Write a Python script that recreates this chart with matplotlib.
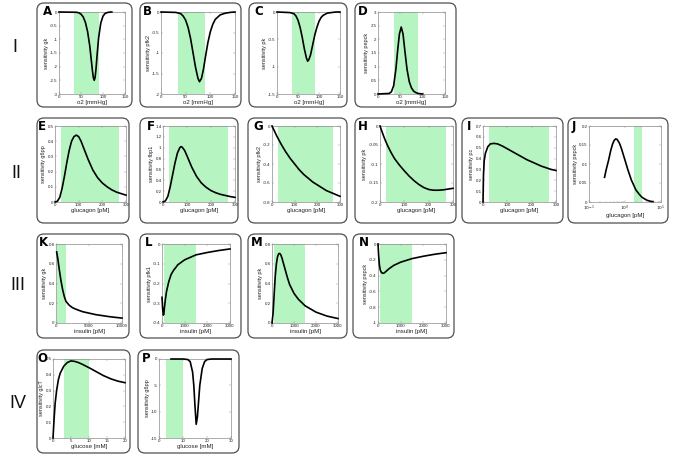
"""Sensitivity panels I-IV, matplotlib recreation."""

import math

import matplotlib
matplotlib.use('Agg')
import matplotlib.pyplot as plt
from matplotlib.patches import FancyBboxPatch
from matplotlib.ticker import FormatStrFormatter, FuncFormatter

plt.rcParams['font.family'] = ['Liberation Sans', 'DejaVu Sans']
plt.rcParams['axes.unicode_minus'] = False

# ---- data ----
# row I: o2 [mmHg]
A_o2 = [0, 40, 45, 50, 55, 60, 65, 70, 73, 76, 78, 80, 82, 84, 87, 90, 95, 100, 105, 110, 115, 120]
A_gk = [0, -0.01, -0.03, -0.08, -0.18, -0.38, -0.72, -1.25, -1.7, -2.15, -2.4, -2.5, -2.4, -2.1,
        -1.5, -0.95, -0.4, -0.15, -0.05, -0.02, -0.005, 0]
B_o2 = [0, 30, 40, 45, 50, 55, 60, 65, 70, 75, 78, 82, 86, 90, 95, 100, 105, 110, 120, 130, 140, 150]
B_pfk2 = [0, -0.01, -0.04, -0.1, -0.2, -0.38, -0.65, -1.0, -1.35, -1.62, -1.7, -1.62, -1.4, -1.1,
          -0.75, -0.48, -0.3, -0.18, -0.07, -0.03, -0.01, 0]
C_o2 = [0, 30, 40, 45, 50, 55, 60, 65, 70, 73, 76, 80, 85, 90, 95, 100, 105, 110, 120, 130, 140, 150]
C_pk = [0, -0.01, -0.03, -0.07, -0.15, -0.28, -0.46, -0.67, -0.84, -0.9, -0.87, -0.78, -0.6, -0.42,
        -0.28, -0.17, -0.1, -0.06, -0.02, -0.01, 0, 0]
D_o2 = [0, 25, 30, 35, 40, 44, 48, 52, 56, 60, 65, 70, 75, 80, 85, 90, 100]
D_pepck = [0, 0.02, 0.08, 0.3, 0.9, 1.6, 2.2, 2.45, 2.2, 1.6, 0.9, 0.45, 0.22, 0.1, 0.05, 0.02, 0]

# row II: glucagon [pM]
E_glu = [0, 10, 20, 30, 40, 50, 60, 70, 80, 90, 100, 110, 120, 140, 160, 180, 200, 220, 240, 260, 280, 300]
E_g6pp = [0, 0.005, 0.03, 0.09, 0.17, 0.26, 0.34, 0.40, 0.43, 0.44, 0.43, 0.40, 0.36, 0.28, 0.21,
          0.16, 0.125, 0.10, 0.08, 0.065, 0.055, 0.045]
F_glu = [0, 10, 20, 30, 40, 50, 60, 70, 75, 80, 90, 100, 120, 140, 160, 180, 200, 220, 240, 260, 280, 300]
F_fbp1 = [0, 0.02, 0.1, 0.28, 0.5, 0.72, 0.9, 1.0, 1.02, 1.01, 0.95, 0.85, 0.64, 0.47, 0.35, 0.27,
          0.21, 0.17, 0.14, 0.12, 0.1, 0.085]
G_glu = [0, 10, 20, 40, 60, 80, 100, 120, 140, 160, 180, 200, 220, 240, 260, 280, 300]
G_pfk2 = [0, -0.05, -0.1, -0.19, -0.27, -0.34, -0.40, -0.46, -0.51, -0.55, -0.59, -0.62, -0.65,
          -0.68, -0.70, -0.72, -0.74]
H_glu = [0, 10, 20, 30, 40, 50, 60, 80, 100, 120, 140, 160, 180, 200, 220, 240, 260, 280, 300]
H_pk = [0, -0.018, -0.035, -0.05, -0.063, -0.075, -0.086, -0.103, -0.118, -0.132, -0.144, -0.154,
        -0.162, -0.167, -0.169, -0.169, -0.168, -0.166, -0.164]
I_glu = [0, 2, 5, 10, 20, 30, 45, 60, 80, 100, 120, 140, 160, 180, 200, 220, 240, 260, 280, 300]
I_pc = [0, 0.25, 0.38, 0.45, 0.51, 0.535, 0.54, 0.535, 0.515, 0.49, 0.465, 0.44, 0.415, 0.39, 0.37,
        0.35, 0.33, 0.315, 0.3, 0.29]
J_glu = [0.27, 0.3, 0.35, 0.4, 0.45, 0.5, 0.55, 0.6, 0.7, 0.8, 1.0, 1.2, 1.5, 2.0, 2.5, 3.0, 4.0, 5.0, 6.0]
J_pepck = [0.065, 0.085, 0.11, 0.135, 0.152, 0.162, 0.166, 0.165, 0.155, 0.14, 0.11, 0.085, 0.058,
           0.032, 0.02, 0.012, 0.005, 0.002, 0.001]

# row III: insulin [pM]
K_ins = [100, 300, 500, 750, 1000, 1250, 1500, 2000, 2500, 3000, 4000, 5000, 6000, 7000, 8000, 9000, 10000]
K_gk = [0.72, 0.64, 0.54, 0.43, 0.34, 0.27, 0.22, 0.18, 0.155, 0.14, 0.115, 0.1, 0.085, 0.075,
        0.065, 0.057, 0.05]
L_ins = [0, 30, 60, 80, 100, 150, 200, 300, 400, 500, 700, 1000, 1500, 2000, 2500, 3000]
L_pfk1 = [-0.27, -0.33, -0.36, -0.355, -0.33, -0.28, -0.24, -0.19, -0.155, -0.135, -0.105, -0.08,
          -0.055, -0.043, -0.033, -0.025]
M_ins = [0, 50, 100, 150, 200, 250, 300, 350, 400, 450, 500, 600, 700, 800, 1000, 1200, 1500, 2000, 2500, 3000]
M_pk = [0, 0.1, 0.3, 0.48, 0.6, 0.67, 0.7, 0.705, 0.69, 0.66, 0.62, 0.54, 0.46, 0.39, 0.3, 0.24,
        0.175, 0.11, 0.07, 0.045]
N_ins = [0, 30, 60, 100, 150, 200, 250, 300, 400, 500, 700, 1000, 1500, 2000, 2500, 3000]
N_pepck = [0, -0.15, -0.26, -0.33, -0.36, -0.37, -0.37, -0.36, -0.335, -0.31, -0.27, -0.23, -0.185,
           -0.155, -0.13, -0.11]

# row IV: glucose [mM]
O_glc = [0, 0.3, 0.6, 1, 1.5, 2, 3, 4, 5, 6, 7, 8, 10, 12, 14, 16, 18, 20]
O_glct = [0, 0.12, 0.22, 0.3, 0.37, 0.41, 0.455, 0.478, 0.488, 0.485, 0.478, 0.468, 0.445, 0.42,
          0.395, 0.375, 0.36, 0.35]
P_glc = [5, 10, 12, 13, 14, 14.5, 15, 15.5, 16, 16.5, 17, 18, 19, 20, 22, 30]
P_g6pp = [0, 0, -0.1, -0.5, -2.5, -5, -9, -12.4, -11, -8, -5, -1.8, -0.5, -0.1, 0, 0]

# physiological ranges (green bands)
O2_RANGE = (35, 90)
GLUCAGON_RANGE = (25, 270)
GLUCAGON_LOG_RANGE = (1.8, 3.0)
INSULIN_RANGE = (100, 1500)
GLUCOSE_RANGE = (3, 10)

ROW_LABELS = ['I', 'II', 'III', 'IV']

# ---- layout (pixels in a 673x457 image) ----
W, H = 673, 457
GREEN = '#b6f5c2'
AX_GRAY = '#8c8c8c'

# letter: box (x0, y0, x1, y1), axes (x0, y0, x1, y1), letter x-offset
PANELS = {
    'A': ((37, 3, 132, 107), (59, 12, 125, 94), 6),
    'B': ((140, 3, 241, 107), (161, 12, 235, 94), 3),
    'C': ((249, 3, 347, 107), (277, 12, 340, 94), 5),
    'D': ((355, 3, 456, 107), (378, 12, 445, 94), 3),
    'E': ((37, 118, 129, 223), (55, 126, 126, 202), 1),
    'F': ((140, 118, 238, 223), (163, 126, 235, 202), 7),
    'G': ((248, 118, 347, 223), (272, 126, 340, 202), 5),
    'H': ((355, 118, 456, 223), (380, 126, 453, 202), 3),
    'I': ((462, 118, 563, 223), (483, 126, 556, 202), 5),
    'J': ((568, 118, 668, 223), (589, 126, 661, 202), 4),
    'K': ((37, 234, 129, 338), (56, 244, 122, 323), 2),
    'L': ((140, 234, 241, 338), (162, 244, 230, 323), 5),
    'M': ((248, 234, 347, 338), (272, 244, 338, 323), 3),
    'N': ((353, 234, 454, 338), (378, 244, 446, 323), 6),
    'O': ((37, 350, 130, 453), (53, 359, 125, 438), 0),
    'P': ((138, 350, 239, 453), (159, 359, 231, 438), 4),
}
ROW_POS = [(15, 47), (16, 173), (18, 286), (18, 404)]

fig = plt.figure(figsize=(W / 100, H / 100), dpi=100)
fig.patch.set_facecolor('white')


def px_rect(x0, y0, x1, y1):
    """Pixel box (top-left origin) -> figure fraction rect."""
    return [x0 / W, 1 - y1 / H, (x1 - x0) / W, (y1 - y0) / H]


def log_label(v, pos):
    return r'$10^{%d}$' % round(math.log10(v))


def draw_panel(letter, x, y, xlim, ylim, xticks, yticks, band, xlabel, ylabel, log=False):
    box, axpx, loff = PANELS[letter]
    bx0, by0, bx1, by1 = box
    # rounded frame, in inches so corners stay round
    fig.patches.append(FancyBboxPatch(
        (bx0 / 100, (H - by1) / 100), (bx1 - bx0) / 100, (by1 - by0) / 100,
        boxstyle='round,pad=0,rounding_size=0.07', transform=fig.dpi_scale_trans,
        facecolor='none', edgecolor='#505050', linewidth=0.9, zorder=0))
    fig.text((bx0 + loff) / W, 1 - (by0 + 2) / H, letter, fontsize=8.5,
             fontweight='bold', ha='left', va='top', family='DejaVu Sans')

    ax = fig.add_axes(px_rect(*axpx))
    if log:
        ax.set_xscale('log')
    ax.axvspan(band[0], band[1], color=GREEN, lw=0, zorder=0)
    ax.plot(x, y, color='black', lw=1.2, zorder=3, clip_on=False)
    ax.set_xlim(*xlim)
    ax.set_ylim(*ylim)
    ax.set_xticks(xticks)
    ax.set_yticks(yticks)
    if log:
        ax.xaxis.set_major_formatter(FuncFormatter(log_label))
        ax.tick_params(axis='x', which='minor', direction='in', length=0.8, width=0.3,
                       colors=AX_GRAY, top=True)
    else:
        ax.xaxis.set_major_formatter(FormatStrFormatter('%g'))
    ax.yaxis.set_major_formatter(FormatStrFormatter('%g'))
    ax.tick_params(axis='both', which='major', direction='in', length=1.5, width=0.3,
                   colors=AX_GRAY, labelcolor='#222222', labelsize=3.2, pad=1,
                   top=True, right=True)
    for s in ax.spines.values():
        s.set_color(AX_GRAY)
        s.set_linewidth(0.5)
    ax.set_xlabel(xlabel, fontsize=4.4, labelpad=0.3, color='#222222')
    ax.set_ylabel(ylabel, fontsize=4.0, labelpad=1.0, color='#222222')
    return ax


# row I
o2_ticks = [0, 50, 100, 150]
draw_panel('A', A_o2, A_gk, (0, 150), (-3, 0), o2_ticks,
           [-3, -2.5, -2, -1.5, -1, -0.5, 0], O2_RANGE, 'o2 [mmHg]', 'sensitivity gk')
draw_panel('B', B_o2, B_pfk2, (0, 150), (-2, 0), o2_ticks,
           [-2, -1.5, -1, -0.5, 0], O2_RANGE, 'o2 [mmHg]', 'sensitivity pfk2')
draw_panel('C', C_o2, C_pk, (0, 150), (-1.5, 0), o2_ticks,
           [-1.5, -1, -0.5, 0], O2_RANGE, 'o2 [mmHg]', 'sensitivity pk')
draw_panel('D', D_o2, D_pepck, (0, 150), (0, 3), o2_ticks,
           [0, 0.5, 1, 1.5, 2, 2.5, 3], O2_RANGE, 'o2 [mmHg]', 'sensitivity pepck')

# row II
glu_ticks = [0, 100, 200, 300]
draw_panel('E', E_glu, E_g6pp, (0, 300), (0, 0.5), glu_ticks,
           [0, 0.1, 0.2, 0.3, 0.4, 0.5], GLUCAGON_RANGE, 'glucagon [pM]', 'sensitivity g6pp')
draw_panel('F', F_glu, F_fbp1, (0, 300), (0, 1.4), glu_ticks,
           [0, 0.2, 0.4, 0.6, 0.8, 1, 1.2, 1.4], GLUCAGON_RANGE, 'glucagon [pM]', 'sensitivity fbp1')
draw_panel('G', G_glu, G_pfk2, (0, 300), (-0.8, 0), glu_ticks,
           [-0.8, -0.6, -0.4, -0.2, 0], GLUCAGON_RANGE, 'glucagon [pM]', 'sensitivity pfk2')
draw_panel('H', H_glu, H_pk, (0, 300), (-0.2, 0), glu_ticks,
           [-0.2, -0.15, -0.1, -0.05, 0], GLUCAGON_RANGE, 'glucagon [pM]', 'sensitivity pk')
draw_panel('I', I_glu, I_pc, (0, 300), (0, 0.7), glu_ticks,
           [0, 0.1, 0.2, 0.3, 0.4, 0.5, 0.6, 0.7], GLUCAGON_RANGE, 'glucagon [pM]', 'sensitivity pc')
draw_panel('J', J_glu, J_pepck, (0.1, 10), (0, 0.2), [0.1, 1, 10],
           [0, 0.05, 0.1, 0.15, 0.2], GLUCAGON_LOG_RANGE, 'glucagon [pM]', 'sensitivity pepck',
           log=True)

# row III
ins_ticks = [0, 1000, 2000, 3000]
draw_panel('K', K_ins, K_gk, (0, 10000), (0, 0.8), [0, 5000, 10000],
           [0, 0.2, 0.4, 0.6, 0.8], INSULIN_RANGE, 'insulin [pM]', 'sensitivity gk')
draw_panel('L', L_ins, L_pfk1, (0, 3000), (-0.4, 0), ins_ticks,
           [-0.4, -0.3, -0.2, -0.1, 0], INSULIN_RANGE, 'insulin [pM]', 'sensitivity pfk1')
draw_panel('M', M_ins, M_pk, (0, 3000), (0, 0.8), ins_ticks,
           [0, 0.2, 0.4, 0.6, 0.8], INSULIN_RANGE, 'insulin [pM]', 'sensitivity pk')
draw_panel('N', N_ins, N_pepck, (0, 3000), (-1, 0), ins_ticks,
           [-1, -0.8, -0.6, -0.4, -0.2, 0], INSULIN_RANGE, 'insulin [pM]', 'sensitivity pepck')

# row IV
draw_panel('O', O_glc, O_glct, (0, 20), (0, 0.5), [0, 5, 10, 15, 20],
           [0, 0.1, 0.2, 0.3, 0.4, 0.5], GLUCOSE_RANGE, 'glucose [mM]', 'sensitivity glcT')
draw_panel('P', P_glc, P_g6pp, (0, 30), (-15, 0), [0, 10, 20, 30],
           [-15, -10, -5, 0], GLUCOSE_RANGE, 'glucose [mM]', 'sensitivity g6pp')

# row numerals
for label, (rx, ry) in zip(ROW_LABELS, ROW_POS):
    fig.text(rx / W, 1 - ry / H, label, fontsize=13, ha='center', va='center', color='#111111')

fig.savefig('out.png', dpi=100, facecolor='white')
